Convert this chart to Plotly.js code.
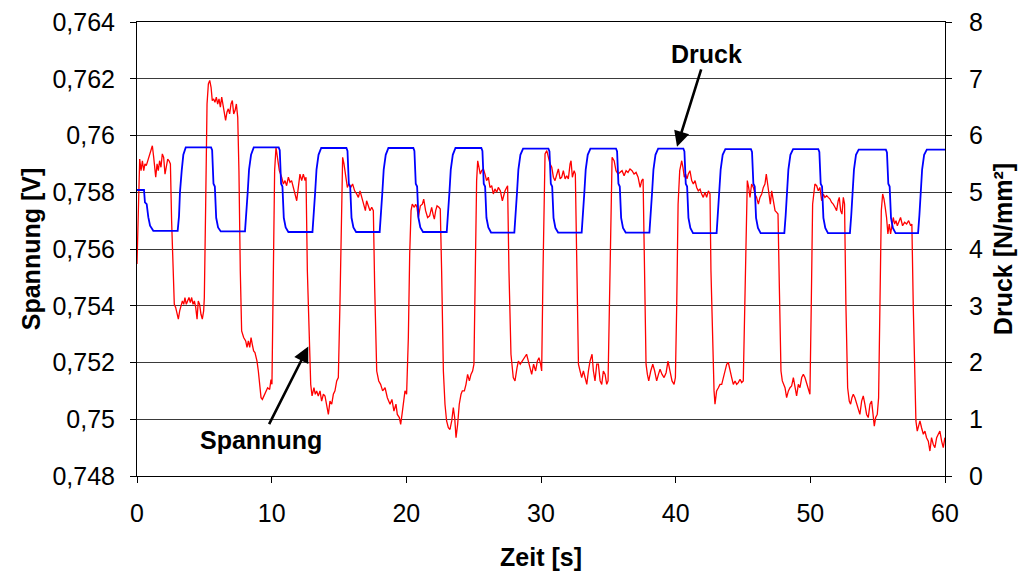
<!DOCTYPE html>
<html><head><meta charset="utf-8">
<script src="https://cdn.plot.ly/plotly-3.0.1.min.js"></script>
<style>html,body{margin:0;padding:0;background:#fff}#chart{width:1024px;height:575px}</style>
</head><body><div id="chart"></div>
<script>
// Zeit [s] for the Spannung series
const zeitSpannung = [
0.00,0.10,0.20,0.30,0.40,0.50,0.59,0.69,0.79,0.89,0.99,1.09,1.14,1.24,1.34,1.39,1.49,1.58,1.68,1.78,1.88,1.98,2.08,2.18,2.28,2.38,2.48,
2.57,2.67,2.77,2.87,2.97,3.07,3.17,3.27,3.37,3.47,3.56,3.66,3.76,3.86,3.96,4.06,4.16,4.26,4.36,4.46,4.55,4.65,4.75,4.85,4.95,5.00,
5.10,5.20,5.30,5.40,5.50,5.59,5.69,5.79,5.89,5.99,6.09,6.19,6.29,6.39,6.49,6.58,6.68,6.78,6.88,6.98,7.08,7.18,7.28,7.38,7.48,
7.57,7.67,7.77,7.92,8.07,8.17,8.27,8.37,8.47,8.56,8.66,8.76,8.91,9.01,9.11,9.21,9.31,9.41,9.55,9.70,9.85,9.95,10.02,
10.12,10.22,10.32,10.42,10.57,10.74,10.87,10.99,11.11,11.24,11.36,11.48,11.66,11.86,11.98,12.10,12.23,12.35,12.48,12.55,
12.65,12.80,12.90,13.00,13.14,13.24,13.34,13.46,13.59,13.71,13.84,13.96,14.08,14.21,14.33,14.46,14.58,14.70,14.83,14.95,
15.07,15.17,15.27,15.37,15.52,15.62,15.72,15.87,16.01,16.16,16.31,16.44,16.56,16.71,16.86,16.96,17.05,17.18,17.30,17.43,17.55,
17.65,17.80,17.95,18.09,18.24,18.42,18.59,18.79,18.93,19.08,19.23,19.33,19.48,19.58,19.68,19.78,19.90,20.02,
20.15,20.25,20.35,20.44,20.59,20.69,20.79,20.89,21.04,21.19,21.29,21.43,21.58,21.73,21.88,21.98,22.08,22.18,22.28,22.42,22.52,
22.62,22.75,22.87,22.99,23.12,23.24,23.37,23.49,23.59,23.69,23.81,23.93,24.06,24.16,24.31,24.43,24.55,24.68,24.80,24.92,25.02,
25.12,25.22,25.30,25.40,25.49,25.59,25.72,25.84,25.96,26.09,26.21,26.34,26.46,26.58,26.71,26.83,26.98,27.13,27.23,27.33,27.45,27.52,
27.62,27.77,27.94,28.07,28.22,28.32,28.46,28.61,28.76,28.93,29.06,29.18,29.31,29.45,29.60,29.73,29.85,29.97,30.05,
30.15,30.23,30.30,30.43,30.55,30.67,30.80,30.92,31.04,31.17,31.29,31.42,31.54,31.66,31.79,31.91,32.03,32.16,32.23,32.33,32.46,32.55,
32.65,32.78,32.90,33.02,33.15,33.27,33.40,33.52,33.64,33.79,33.89,34.01,34.14,34.26,34.39,34.51,34.63,34.76,34.88,34.98,
35.08,35.18,35.28,35.43,35.57,35.72,35.87,36.02,36.17,36.32,36.46,36.61,36.76,36.91,37.06,37.21,37.36,37.48,37.58,
37.68,37.80,37.90,38.00,38.15,38.30,38.44,38.59,38.72,38.84,38.99,39.14,39.29,39.43,39.58,39.73,39.88,39.98,
40.08,40.18,40.30,40.45,40.54,40.64,40.74,40.84,40.94,41.06,41.19,41.31,41.44,41.56,41.68,41.81,41.93,42.05,42.18,42.30,42.43,42.55,
42.62,42.75,42.85,42.92,43.04,43.17,43.29,43.42,43.54,43.66,43.79,43.91,44.03,44.16,44.28,44.41,44.53,44.65,44.78,44.90,45.02,
45.12,45.22,45.32,45.42,45.52,45.64,45.77,45.89,46.01,46.14,46.26,46.39,46.51,46.63,46.73,46.83,46.93,47.03,47.13,47.25,47.38,47.50,47.60,
47.70,47.82,47.92,48.02,48.12,48.24,48.37,48.49,48.61,48.74,48.86,48.98,49.11,49.23,49.36,49.48,49.60,49.73,49.85,49.97,
50.07,50.17,50.34,50.47,50.59,50.71,50.84,50.96,51.08,51.21,51.33,51.46,51.58,51.70,51.83,51.95,52.07,52.15,52.25,52.35,52.45,52.54,
52.64,52.77,52.89,52.99,53.09,53.19,53.31,53.44,53.56,53.68,53.81,53.93,54.05,54.18,54.30,54.43,54.55,54.67,54.75,54.85,54.97,55.07,
55.17,55.27,55.37,55.47,55.56,55.66,55.76,55.86,55.96,56.06,56.16,56.26,56.36,56.46,56.55,56.70,56.85,57.00,57.15,57.30,57.45,57.54,
57.64,57.77,57.84,57.94,58.04,58.14,58.26,58.39,58.51,58.63,58.76,58.88,59.00,59.13,59.25,59.38,59.50,59.62,59.75,59.87,59.99
];
// Spannung [V]
const spannung = [
0.75547,0.75735,0.75917,0.75876,0.75911,0.75876,0.75900,0.75894,0.75911,0.75929,0.75947,0.75958,0.75964,0.75923,0.75876,0.75853,0.75900,0.75876,0.75911,0.75888,0.75935,0.75923,0.75864,0.75900,0.75917,0.75911,0.75900,
0.75700,0.75500,0.75405,0.75394,0.75376,0.75353,0.75382,0.75405,0.75417,0.75405,0.75429,0.75405,0.75417,0.75429,0.75411,0.75429,0.75405,0.75417,0.75394,0.75353,0.75417,0.75405,0.75370,0.75353,0.75382,0.75429,
0.75758,0.76111,0.76182,0.76194,0.76170,0.76123,0.76129,0.76117,0.76135,0.76111,0.76129,0.76100,0.76135,0.76111,0.76088,0.76053,0.76082,0.76094,0.76076,0.76111,0.76123,0.76076,0.76088,0.76111,0.76064,
0.75876,0.75523,0.75311,0.75288,0.75276,0.75253,0.75276,0.75253,0.75288,0.75264,0.75241,0.75235,0.75205,0.75170,0.75123,0.75076,0.75070,0.75082,0.75100,0.75111,0.75105,0.75140,0.75123,
0.75523,0.75876,0.75958,0.75923,0.75876,0.75853,0.75829,0.75841,0.75823,0.75853,0.75835,0.75841,0.75805,0.75770,0.75817,0.75864,0.75841,0.75864,0.75841,0.75853,
0.75523,0.75253,0.75123,0.75082,0.75111,0.75088,0.75100,0.75082,0.75100,0.75064,0.75088,0.75082,0.75053,0.75017,0.75064,0.75053,0.75088,0.75100,0.75135,0.75147,
0.75405,0.75758,0.75923,0.75900,0.75841,0.75817,0.75829,0.75817,0.75829,0.75805,0.75794,0.75782,0.75805,0.75776,0.75758,0.75735,0.75770,0.75752,0.75735,0.75747,0.75735,
0.75464,0.75170,0.75135,0.75123,0.75100,0.75111,0.75076,0.75053,0.75070,0.75029,0.75053,0.75017,0.75006,0.74982,0.75017,0.75064,0.75100,0.75088,
0.75288,0.75582,0.75735,0.75758,0.75747,0.75758,0.75747,0.75711,0.75752,0.75758,0.75776,0.75735,0.75711,0.75717,0.75747,0.75723,0.75705,0.75735,0.75752,0.75747,0.75741,
0.75523,0.75170,0.75053,0.74994,0.74970,0.74964,0.74994,0.75041,0.75006,0.74935,0.74982,0.75053,0.75088,0.75100,0.75100,0.75123,0.75158,0.75135,0.75158,0.75170,0.75194,
0.75523,0.75841,0.75911,0.75888,0.75864,0.75876,0.75882,0.75864,0.75841,0.75853,0.75817,0.75823,0.75794,0.75812,0.75800,0.75817,0.75805,0.75770,0.75794,0.75805,0.75817,0.75823,
0.75523,0.75229,0.75147,0.75135,0.75182,0.75205,0.75194,0.75205,0.75217,0.75229,0.75205,0.75182,0.75158,0.75194,0.75170,0.75205,0.75217,0.75194,0.75170,
0.75523,0.75841,0.75935,0.75947,0.75923,0.75900,0.75888,0.75853,0.75841,0.75864,0.75882,0.75847,0.75853,0.75876,0.75847,0.75858,0.75847,0.75900,0.75911,0.75853,0.75876,0.75864,
0.75523,0.75194,0.75170,0.75147,0.75170,0.75141,0.75123,0.75170,0.75205,0.75229,0.75170,0.75135,0.75194,0.75194,0.75135,0.75123,0.75170,0.75158,0.75123,0.75135,
0.75406,0.75758,0.75923,0.75911,0.75876,0.75864,0.75870,0.75876,0.75858,0.75876,0.75870,0.75882,0.75876,0.75864,0.75870,0.75853,0.75817,0.75841,0.75847,
0.75523,0.75194,0.75158,0.75135,0.75170,0.75194,0.75170,0.75135,0.75158,0.75176,0.75158,0.75147,0.75164,0.75205,0.75170,0.75135,0.75123,0.75147,
0.75406,0.75758,0.75876,0.75911,0.75888,0.75853,0.75864,0.75847,0.75864,0.75876,0.75841,0.75829,0.75841,0.75817,0.75805,0.75811,0.75794,0.75782,0.75800,0.75782,0.75805,0.75794,
0.75523,0.75229,0.75100,0.75053,0.75100,0.75111,0.75123,0.75123,0.75147,0.75170,0.75194,0.75200,0.75170,0.75147,0.75123,0.75135,0.75123,0.75129,0.75141,0.75129,0.75135,
0.75406,0.75700,0.75841,0.75817,0.75782,0.75829,0.75817,0.75794,0.75782,0.75758,0.75782,0.75794,0.75817,0.75829,0.75864,0.75829,0.75794,0.75758,0.75805,0.75770,0.75735,0.75729,0.75723,
0.75464,0.75170,0.75135,0.75123,0.75111,0.75076,0.75100,0.75111,0.75117,0.75147,0.75111,0.75082,0.75123,0.75111,0.75147,0.75158,0.75147,0.75123,0.75100,0.75088,
0.75406,0.75758,0.75829,0.75823,0.75805,0.75817,0.75770,0.75794,0.75782,0.75788,0.75782,0.75776,0.75764,0.75758,0.75747,0.75735,0.75770,0.75782,0.75735,0.75723,0.75782,0.75758,
0.75406,0.75111,0.75064,0.75053,0.75076,0.75088,0.75076,0.75053,0.75029,0.75017,0.75064,0.75082,0.75053,0.75017,0.75006,0.75053,0.75064,0.75006,0.74976,0.75006,0.75017,0.75076,
0.75465,0.75735,0.75794,0.75776,0.75747,0.75711,0.75653,0.75688,0.75653,0.75676,0.75711,0.75688,0.75700,0.75682,0.75694,0.75711,0.75682,0.75694,0.75688,0.75700,0.75682,0.75688,
0.75406,0.75053,0.74994,0.74958,0.74982,0.74994,0.74970,0.74947,0.74958,0.74935,0.74923,0.74888,0.74935,0.74911,0.74900,0.74935,0.74947,0.74958,0.74923,0.74900,0.74935
];
// Zeit [s] for the Druck series
const zeitDruck = [
0.00,0.52,0.59,0.72,0.84,0.97,1.21,
3.02,3.12,3.19,3.32,3.44,3.62,
5.50,5.58,5.68,5.78,5.88,6.02,6.22,
8.02,8.12,8.22,8.32,8.47,8.67,
10.52,10.60,10.70,10.80,10.90,11.04,11.24,
13.03,13.13,13.23,13.33,13.48,13.68,
15.55,15.63,15.73,15.83,15.93,16.07,16.27,
18.02,18.12,18.22,18.32,18.47,18.67,
20.52,20.60,20.70,20.80,20.90,21.04,21.24,
23.00,23.10,23.20,23.30,23.45,23.65,
25.57,25.65,25.75,25.85,25.95,26.09,26.29,
28.02,28.12,28.22,28.32,28.47,28.67,
30.55,30.63,30.73,30.83,30.93,31.07,31.27,
33.02,33.12,33.22,33.32,33.47,33.67,
35.57,35.65,35.75,35.85,35.95,36.09,36.29,
38.05,38.15,38.25,38.35,38.50,38.70,
40.57,40.65,40.75,40.85,40.95,41.09,41.29,
43.04,43.14,43.24,43.34,43.49,43.69,
45.59,45.67,45.77,45.87,45.97,46.11,46.31,
48.07,48.17,48.27,48.37,48.52,48.72,
50.59,50.67,50.77,50.87,50.97,51.11,51.31,
52.94,53.04,53.14,53.24,53.39,53.59,
55.61,55.69,55.79,55.89,55.99,56.13,56.33,
58.00,58.10,58.20,58.30,58.45,58.65,
60.00
];
// Druck [N/mm²]
const druck = [
5.04,5.04,4.82,4.79,4.56,4.41,4.32,
4.32,4.58,5.00,5.38,5.66,5.79,
5.79,5.74,5.15,5.10,4.55,4.38,4.31,
4.31,4.60,5.00,5.40,5.66,5.79,
5.79,5.74,5.15,5.10,4.55,4.38,4.30,
4.30,4.60,5.00,5.40,5.66,5.78,
5.78,5.73,5.15,5.10,4.55,4.38,4.30,
4.30,4.60,5.00,5.40,5.66,5.78,
5.78,5.73,5.15,5.10,4.55,4.38,4.30,
4.30,4.60,5.00,5.40,5.66,5.78,
5.78,5.73,5.15,5.10,4.55,4.38,4.29,
4.29,4.60,5.00,5.40,5.66,5.77,
5.77,5.72,5.15,5.10,4.55,4.37,4.29,
4.29,4.60,5.00,5.40,5.66,5.77,
5.77,5.72,5.15,5.10,4.55,4.37,4.29,
4.29,4.60,5.00,5.40,5.66,5.77,
5.77,5.72,5.15,5.10,4.55,4.37,4.28,
4.28,4.60,5.00,5.40,5.66,5.76,
5.76,5.71,5.15,5.10,4.55,4.37,4.28,
4.28,4.60,5.00,5.40,5.66,5.76,
5.76,5.71,5.15,5.10,4.55,4.37,4.28,
4.28,4.60,5.00,5.40,5.66,5.75,
5.75,5.70,5.15,5.10,4.55,4.37,4.28,
4.28,4.60,5.00,5.40,5.66,5.75,
5.75
];
const spannungTicks = [0.748,0.750,0.752,0.754,0.756,0.758,0.760,0.762,0.764];
const spannungTickText = ['0,748','0,75','0,752','0,754','0,756','0,758','0,76','0,762','0,764'];
const zeitTicks = [0,10,20,30,40,50,60];
const druckTicks = [0,1,2,3,4,5,6,7,8];

const FONT = 'Liberation Sans, Arial, Helvetica, sans-serif';

const traces = [
  {x: zeitSpannung, y: spannung, type: 'scatter', mode: 'lines', name: 'Spannung',
   line: {color: '#FF0000', width: 1.3}, yaxis: 'y'},
  {x: zeitDruck, y: druck, type: 'scatter', mode: 'lines', name: 'Druck',
   line: {color: '#0000FF', width: 1.8}, yaxis: 'y2'}
];

const layout = {
  width: 1024, height: 575,
  margin: {l: 137, r: 79, t: 22, b: 99, pad: 0},
  paper_bgcolor: '#fff', plot_bgcolor: '#fff',
  showlegend: false,
  font: {family: FONT, color: '#000', size: 25},
  xaxis: {
    range: [0, 60], tickvals: zeitTicks, ticks: 'outside', ticklen: 6, tickwidth: 1, tickcolor: '#000',
    showline: true, linecolor: '#000', linewidth: 1, mirror: true, showgrid: false, zeroline: false,
    tickfont: {size: 25}, ticklabelstandoff: 9,
    title: {text: '<b>Zeit [s]</b>', font: {size: 25}, standoff: 22}
  },
  yaxis: {
    range: [0.748, 0.764], tickvals: spannungTicks, ticktext: spannungTickText,
    ticks: 'outside', ticklen: 6, tickwidth: 1, tickcolor: '#000',
    showline: true, linecolor: '#000', linewidth: 1, zeroline: false,
    showgrid: true, gridcolor: '#3a3a3a', gridwidth: 1,
    tickfont: {size: 25}, ticklabelstandoff: 10,
    title: {text: '<b>Spannung [V]</b>', font: {size: 25}, standoff: 4}
  },
  yaxis2: {
    range: [0, 8], tickvals: druckTicks, overlaying: 'y', side: 'right',
    ticks: 'outside', ticklen: 6, tickwidth: 1, tickcolor: '#000',
    showline: true, linecolor: '#000', linewidth: 1, showgrid: false, zeroline: false,
    tickfont: {size: 25}, ticklabelstandoff: 12,
    title: {text: '<b>Druck [N/mm²]</b>', font: {size: 25}, standoff: 12}
  },
  annotations: [
    {x: 40.1, y: 5.80, xref: 'x', yref: 'y2', text: '<b>Druck</b>', showarrow: true,
     ax: 29, ay: -93, arrowhead: 2, arrowsize: 1.2, arrowwidth: 2.6, arrowcolor: '#000',
     font: {size: 25, color: '#000'}},
    {x: 12.72, y: 0.75256, xref: 'x', yref: 'y', text: '<b>Spannung</b>', showarrow: true,
     ax: -47, ay: 93, arrowhead: 2, arrowsize: 1.2, arrowwidth: 2.6, arrowcolor: '#000',
     font: {size: 25, color: '#000'}}
  ]
};

Plotly.newPlot('chart', traces, layout, {staticPlot: true, displayModeBar: false});
</script>
</body></html>
